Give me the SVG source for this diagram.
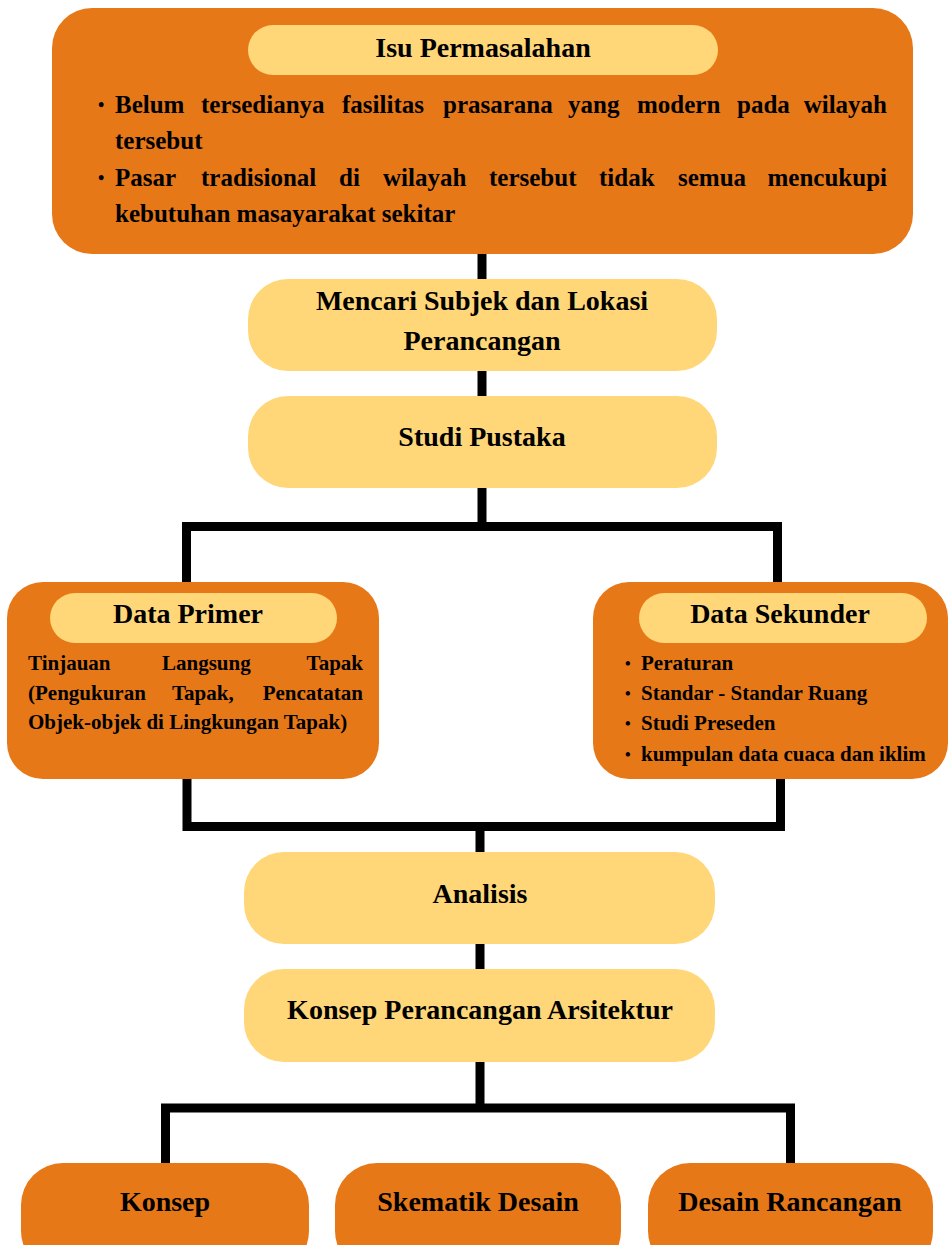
<svg xmlns="http://www.w3.org/2000/svg" width="950" height="1245" viewBox="0 0 950 1245">
<style>
.org{fill:#E67818}
.yel{fill:#FFD778}
text{font-family:"Liberation Serif","Times New Roman",serif;font-weight:bold;fill:#000}
.t28{font-size:28px}
.t25{font-size:25px}
.t21{font-size:21px}
.b1{font-size:18px}
.b2{font-size:16px}
.c{text-anchor:middle}
.e{text-anchor:end}
.conn{fill:none;stroke:#000;stroke-width:9;stroke-linecap:butt;stroke-linejoin:miter}
</style>
<rect width="950" height="1245" fill="#fff"/>
<g id="connectors">
<path class="conn" d="M482 250V282M482 368V399M482 485V526.5M186.5 584V526.5H777.5V584"/>
<path class="conn" d="M187 776V826.5H780.5V776M480 826.5V855M480 941V972M480 1059V1108M165.5 1166V1108H790.5V1166"/>
</g>
<g id="isu">
<rect class="org" x="52" y="8" width="861" height="246" rx="40"/>
<rect class="yel" x="248" y="25" width="470" height="50" rx="25"/>
<text class="t28 c" x="483" y="57">Isu Permasalahan</text>
<text class="b1" x="98" y="111">•</text>
<text class="b1" x="98" y="184">•</text>
<g class="t25">
<text x="115" y="113">Belum</text><text x="201" y="113">tersedianya</text><text x="342" y="113">fasilitas</text><text x="443" y="113">prasarana</text><text x="568" y="113">yang</text><text x="637" y="113">modern</text><text x="737" y="113">pada</text><text class="e" x="887" y="113">wilayah</text>
<text x="115" y="149">tersebut</text>
<text x="115" y="186">Pasar</text><text x="201" y="186">tradisional</text><text x="339" y="186">di</text><text x="383" y="186">wilayah</text><text x="489" y="186">tersebut</text><text x="599" y="186">tidak</text><text x="678" y="186">semua</text><text class="e" x="887" y="186">mencukupi</text>
<text x="115" y="222">kebutuhan masayarakat sekitar</text>
</g>
</g>
<g id="mencari">
<rect class="yel" x="248" y="279" width="469" height="92" rx="40"/>
<text class="t28 c" x="482" y="310">Mencari Subjek dan Lokasi</text>
<text class="t28 c" x="482" y="350">Perancangan</text>
</g>
<g id="studi">
<rect class="yel" x="248" y="396" width="469" height="92" rx="40"/>
<text class="t28 c" x="482" y="446">Studi Pustaka</text>
</g>
<g id="primer">
<rect class="org" x="7" y="582" width="372" height="197" rx="36"/>
<rect class="yel" x="50" y="593" width="287" height="50" rx="25"/>
<text class="t28 c" x="188" y="623">Data Primer</text>
<g class="t21">
<text x="28" y="670">Tinjauan</text><text x="162" y="670">Langsung</text><text class="e" x="363" y="670">Tapak</text>
<text x="28" y="700">(Pengukuran</text><text x="172" y="700">Tapak,</text><text class="e" x="363" y="700">Pencatatan</text>
<text x="28" y="729">Objek-objek di Lingkungan Tapak)</text>
</g>
</g>
<g id="sekunder">
<rect class="org" x="593" y="582" width="355" height="197" rx="36"/>
<rect class="yel" x="639" y="593" width="288" height="50" rx="25"/>
<text class="t28 c" x="780" y="623">Data Sekunder</text>
<g class="b2">
<text x="625" y="669">•</text>
<text x="625" y="699">•</text>
<text x="625" y="729">•</text>
<text x="625" y="760">•</text>
</g>
<g class="t21">
<text x="641" y="670">Peraturan</text>
<text x="641" y="700">Standar - Standar Ruang</text>
<text x="641" y="730">Studi Preseden</text>
<text x="641" y="761">kumpulan data cuaca dan iklim</text>
</g>
</g>
<g id="analisis">
<rect class="yel" x="244" y="852" width="471" height="92" rx="40"/>
<text class="t28 c" x="480" y="903">Analisis</text>
</g>
<g id="konsepArs">
<rect class="yel" x="244" y="969" width="471" height="93" rx="40"/>
<text class="t28 c" x="480" y="1019">Konsep Perancangan Arsitektur</text>
</g>
<g id="konsep">
<rect class="org" x="21" y="1163" width="288" height="110" rx="42"/>
<text class="t28 c" x="165" y="1211">Konsep</text>
</g>
<g id="skematik">
<rect class="org" x="335" y="1163" width="286" height="110" rx="42"/>
<text class="t28 c" x="478" y="1211">Skematik Desain</text>
</g>
<g id="desain">
<rect class="org" x="648" y="1163" width="285" height="110" rx="42"/>
<text class="t28 c" x="790" y="1211">Desain Rancangan</text>
</g>
</svg>
